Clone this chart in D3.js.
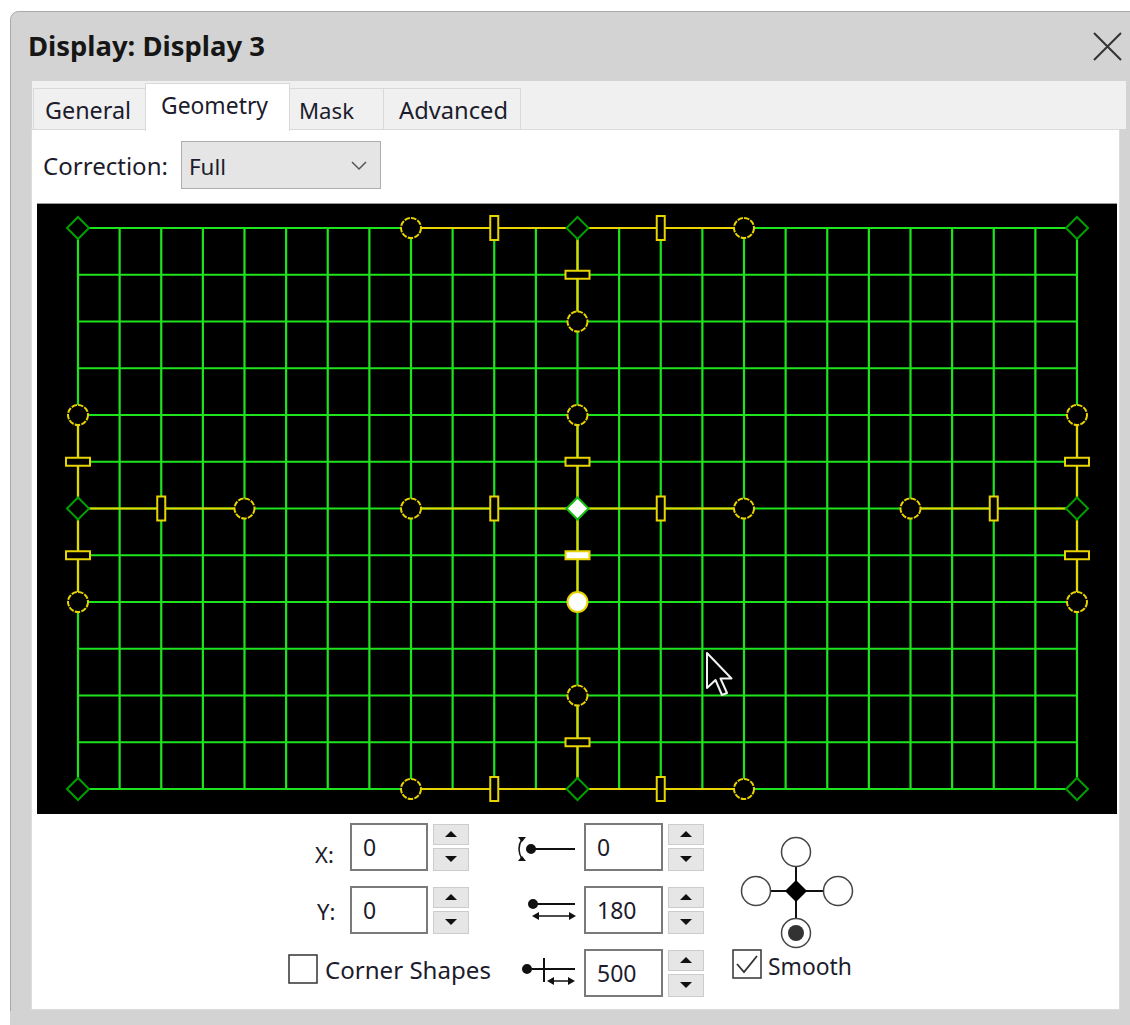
<!DOCTYPE html>
<html>
<head>
<meta charset="utf-8">
<script src="https://cdn.jsdelivr.net/npm/d3@7"></script>
<style>
  body { margin: 0; background: #fff; }
  svg { display: block; }
</style>
</head>
<body>
<div id="plot"></div>
<script>
"use strict";

// grid of the warp mesh: 24 x 12 cells
const gridCols = [0, 1, 2, 3, 4, 5, 6, 7, 8, 9, 10, 11, 12, 13, 14, 15, 16, 17, 18, 19, 20, 21, 22, 23, 24];
const gridRows = [0, 1, 2, 3, 4, 5, 6, 7, 8, 9, 10, 11, 12];

// control points (diamonds), 3 x 3
const nodeCol = [0, 12, 24, 0, 12, 24, 0, 12, 24];
const nodeRow = [0, 0, 0, 6, 6, 6, 12, 12, 12];
const selectedNode = 4;

// bezier handles: node they start from and where the circle sits
const handleFrom = [1, 1, 1, 3, 3, 3, 5, 5, 5, 4, 4, 4, 4, 7, 7, 7];
const handleCol = [8, 16, 12, 0, 0, 4, 24, 24, 20, 12, 12, 8, 16, 8, 16, 12];
const handleRow = [0, 0, 2, 4, 8, 6, 4, 8, 6, 4, 8, 6, 6, 12, 12, 10];
const selectedHandle = 10;

// dialog texts and field values
const title = "Display: Display 3";
const tabs = ["General", "Geometry", "Mask", "Advanced"];
const activeTab = "Geometry";
const correction = "Full";
const leftLabels = ["X:", "Y:"];
const leftValues = ["0", "0"];
const rightValues = ["0", "180", "500"];

const FONT = "'Noto Sans', 'Open Sans', sans-serif";
const GREEN = "#1ee41e";
const DARKGREEN = "#00a000";
const YELLOW = "#e8d400";
const INK = "#1c1c2c";

const msm = {
    width: 1130,
    height: 1025,
    gridLeft: 78,
    gridRight: 1077,
    gridTop: 228,
    gridBottom: 789
};

let svg;

window.onload = function () {
    svg = d3.select("#plot")
        .append("svg")
        .attr("width", msm.width)
        .attr("height", msm.height);
    drawWindow();
    drawTabs();
    drawMesh();
    drawControls();
}

// text placed at left x / baseline y, font size fitted so it spans width w
function label(g, str, x, y, w, size, weight) {
    let t = g.append("text")
        .attr("x", x)
        .attr("y", y)
        .style("font-family", FONT)
        .style("font-size", size + "px")
        .style("font-weight", weight || 400)
        .attr("fill", INK)
        .text(str);
    if (w) {
        let len = t.node().getComputedTextLength();
        t.style("font-size", (size * w / len).toFixed(2) + "px");
    }
    return t;
}

function drawWindow() {
    svg.append("rect")
        .attr("width", msm.width).attr("height", msm.height)
        .attr("fill", "#fff");
    // window body
    svg.append("rect")
        .attr("x", 10.5).attr("y", 11.5)
        .attr("width", 1140).attr("height", 1040)
        .attr("rx", 8)
        .attr("fill", "#d3d3d3")
        .attr("stroke", "#a8a8a8");
    label(svg, title, 28, 56, 237, 24, 700).attr("fill", "#161616");
    // close cross
    svg.append("path")
        .attr("d", "M1094,33 L1121,60 M1121,33 L1094,60")
        .attr("stroke", "#333").attr("stroke-width", 2);
    // tab strip
    svg.append("rect")
        .attr("x", 32).attr("y", 81)
        .attr("width", 1094).attr("height", 48)
        .attr("fill", "#f0f0f0");
    // content panel
    svg.append("rect")
        .attr("x", 31.5).attr("y", 129.5)
        .attr("width", 1088).attr("height", 880)
        .attr("fill", "#fff")
        .attr("stroke", "#dcdcdc");
    svg.append("rect")
        .attr("x", 10).attr("y", 1011)
        .attr("width", 1120).attr("height", 14)
        .attr("fill", "#d3d3d3");
}

function drawTabs() {
    const tabX = [33, 145, 289, 383, 520];
    const textX = [45, 161, 299, 399];
    const textW = [86, 107, 55, 109];
    let g = svg.append("g");
    tabs.forEach((name, i) => {
        let active = name === activeTab;
        let top = active ? 83 : 88;
        g.append("rect")
            .attr("x", tabX[i] + 0.5).attr("y", top + 0.5)
            .attr("width", tabX[i + 1] - tabX[i]).attr("height", (active ? 130 : 129) - top)
            .attr("fill", active ? "#fff" : "#f0f0f0")
            .attr("stroke", "#d9d9d9");
        label(g, name, textX[i], active ? 114 : 119, textW[i], 22);
    });
    // hide the border under the active tab
    svg.append("rect")
        .attr("x", 146).attr("y", 126)
        .attr("width", 143).attr("height", 6)
        .attr("fill", "#fff");

    label(svg, "Correction:", 43, 175, 125, 22);
    svg.append("rect")
        .attr("x", 181.5).attr("y", 141.5)
        .attr("width", 199).attr("height", 47)
        .attr("fill", "#e5e5e5")
        .attr("stroke", "#adadad");
    label(svg, correction, 189, 175, 37, 22);
    svg.append("path")
        .attr("d", "M352,162 L359,169 L366,162")
        .attr("fill", "none").attr("stroke", "#555").attr("stroke-width", 1.5);
}

function drawMesh() {
    let xScale = d3.scaleLinear().domain([0, 24]).range([msm.gridLeft, msm.gridRight]);
    let yScale = d3.scaleLinear().domain([0, 12]).range([msm.gridTop, msm.gridBottom]);

    svg.append("rect")
        .attr("x", 37).attr("y", 203)
        .attr("width", 1080).attr("height", 611)
        .attr("fill", "#000");
    svg.append("line")
        .attr("x1", 37).attr("x2", 1117).attr("y1", 203.5).attr("y2", 203.5)
        .attr("stroke", "#9a9a9a");

    let grid = svg.append("g")
        .attr("stroke", GREEN)
        .attr("stroke-width", 2.2);
    grid.selectAll(".vline")
        .data(gridCols)
        .enter()
        .append("line")
        .attr("x1", d => xScale(d)).attr("x2", d => xScale(d))
        .attr("y1", msm.gridTop).attr("y2", msm.gridBottom);
    grid.selectAll(".hline")
        .data(gridRows)
        .enter()
        .append("line")
        .attr("x1", msm.gridLeft).attr("x2", msm.gridRight)
        .attr("y1", d => yScale(d)).attr("y2", d => yScale(d));

    let handles = handleFrom.map((n, i) => ({
        x0: xScale(nodeCol[n]),
        y0: yScale(nodeRow[n]),
        x1: xScale(handleCol[i]),
        y1: yScale(handleRow[i]),
        horizontal: nodeRow[n] === handleRow[i],
        selected: i === selectedHandle
    }));

    let hg = svg.append("g");
    hg.selectAll("line")
        .data(handles)
        .enter()
        .append("line")
        .attr("x1", d => d.x0).attr("y1", d => d.y0)
        .attr("x2", d => d.x1).attr("y2", d => d.y1)
        .attr("stroke", YELLOW)
        .attr("stroke-width", 2.2);

    // control points
    let nodes = nodeCol.map((c, i) => ({ x: xScale(c), y: yScale(nodeRow[i]), selected: i === selectedNode }));
    svg.append("g")
        .selectAll("path")
        .data(nodes)
        .enter()
        .append("path")
        .attr("d", d => `M${d.x},${d.y - 11} L${d.x + 11},${d.y} L${d.x},${d.y + 11} L${d.x - 11},${d.y} Z`)
        .attr("fill", d => d.selected ? "#fff" : "#000")
        .attr("stroke", d => d.selected ? "#10c010" : DARKGREEN)
        .attr("stroke-width", 2);

    // mid handle boxes
    hg.selectAll("rect")
        .data(handles)
        .enter()
        .append("rect")
        .attr("x", d => (d.x0 + d.x1) / 2 - (d.horizontal ? 4 : 12))
        .attr("y", d => (d.y0 + d.y1) / 2 - (d.horizontal ? 12 : 4))
        .attr("width", d => d.horizontal ? 8 : 24)
        .attr("height", d => d.horizontal ? 24 : 8)
        .attr("fill", d => d.selected ? "#fff" : "#000")
        .attr("stroke", YELLOW)
        .attr("stroke-width", 2);

    // end circles
    hg.selectAll("circle")
        .data(handles)
        .enter()
        .append("circle")
        .attr("cx", d => d.x1).attr("cy", d => d.y1)
        .attr("r", 10)
        .attr("fill", d => d.selected ? "#fff" : "#000")
        .attr("stroke", YELLOW)
        .attr("stroke-width", 2)
        .attr("stroke-dasharray", d => d.selected ? null : "5.5 1.2");

    // mouse pointer
    const cur = [[0, 0], [0, 35], [8.5, 27], [15, 42], [20, 40], [13.5, 25.5], [24.5, 25.5]];
    svg.append("path")
        .attr("d", "M" + cur.map(p => [707 + p[0], 653 + p[1]].join(",")).join(" L") + " Z")
        .attr("fill", "#000")
        .attr("stroke", "#f2f2f2")
        .attr("stroke-width", 2)
        .attr("stroke-linejoin", "round");
}

function textBox(x, y, value, w) {
    svg.append("rect")
        .attr("x", x + 1).attr("y", y + 1)
        .attr("width", w - 2).attr("height", 46)
        .attr("fill", "#fff")
        .attr("stroke", "#7a7a7a")
        .attr("stroke-width", 2);
    label(svg, value, x + 13, y + 33, null, 23);
}

function spinner(x, y) {
    [[y, 20, true], [y + 24, 22, false]].forEach(b => {
        svg.append("rect")
            .attr("x", x + 0.5).attr("y", b[0] + 0.5)
            .attr("width", 35).attr("height", b[1])
            .attr("fill", "#e6e6e6")
            .attr("stroke", "#cccccc");
        let cx = x + 18, cy = b[0] + b[1] / 2;
        svg.append("path")
            .attr("d", b[2]
                ? `M${cx - 6},${cy + 3} L${cx + 6},${cy + 3} L${cx},${cy - 3} Z`
                : `M${cx - 6},${cy - 3} L${cx + 6},${cy - 3} L${cx},${cy + 3} Z`)
            .attr("fill", "#111");
    });
}

function drawControls() {
    const leftRows = [823, 886];
    const rightRows = [823, 886, 949];
    const leftLabelX = [315, 317];
    leftLabels.forEach((l, i) => {
        label(svg, l, leftLabelX[i], leftRows[i] + (i === 0 ? 40 : 34), null, 22);
        textBox(350, leftRows[i], leftValues[i], 78);
        spinner(433, leftRows[i] + 1);
    });
    rightValues.forEach((v, i) => {
        textBox(584, rightRows[i], v, 79);
        spinner(668, rightRows[i] + 1);
    });

    // checkboxes
    svg.append("rect")
        .attr("x", 289).attr("y", 955)
        .attr("width", 28).attr("height", 28)
        .attr("fill", "#fff").attr("stroke", "#333").attr("stroke-width", 1.5);
    label(svg, "Corner Shapes", 325, 979, 166, 22);
    svg.append("rect")
        .attr("x", 733).attr("y", 950)
        .attr("width", 28).attr("height", 28)
        .attr("fill", "#fff").attr("stroke", "#333").attr("stroke-width", 1.5);
    svg.append("path")
        .attr("d", "M737,964 L744,972 L757,956")
        .attr("fill", "none").attr("stroke", "#333").attr("stroke-width", 1.8);
    label(svg, "Smooth", 768, 975, 84, 22);

    // handle icons
    let ic = svg.append("g").attr("stroke", "#111").attr("fill", "#111").attr("stroke-width", 2);
    ic.append("path").attr("d", "M531,849 L575,849");
    ic.append("circle").attr("cx", 531).attr("cy", 849).attr("r", 4);
    ic.append("path").attr("d", "M522,839 Q516,849 522,859").attr("fill", "none").attr("stroke-width", 1.5);
    ic.append("path").attr("d", "M518,837 L526,837 L522,842 Z").attr("stroke", "none");
    ic.append("path").attr("d", "M518,861 L526,861 L522,856 Z").attr("stroke", "none");

    ic.append("path").attr("d", "M533,904 L575,904");
    ic.append("circle").attr("cx", 533).attr("cy", 904).attr("r", 4);
    ic.append("path").attr("d", "M537,916 L571,916").attr("stroke-width", 1.5);
    ic.append("path").attr("d", "M532,916 L539,912 L539,920 Z M576,916 L569,912 L569,920 Z").attr("stroke", "none");

    ic.append("path").attr("d", "M527,969 L575,969");
    ic.append("circle").attr("cx", 527).attr("cy", 969).attr("r", 4);
    ic.append("path").attr("d", "M544,958 L544,982");
    ic.append("path").attr("d", "M552,981 L570,981").attr("stroke-width", 1.5);
    ic.append("path").attr("d", "M547,981 L554,977 L554,985 Z M575,981 L568,977 L568,985 Z").attr("stroke", "none");

    // joystick
    const jx = 796, jy = 891;
    let js = svg.append("g");
    js.append("path")
        .attr("d", `M${jx},${jy - 40} L${jx},${jy + 42} M${jx - 40},${jy} L${jx + 42},${jy}`)
        .attr("stroke", "#111").attr("stroke-width", 2);
    [[jx, 852], [756, jy], [838, jy], [jx, 933]].forEach(p => {
        js.append("circle").attr("cx", p[0]).attr("cy", p[1]).attr("r", 14.5)
            .attr("fill", "#fff").attr("stroke", "#444").attr("stroke-width", 1.5);
    });
    js.append("circle").attr("cx", jx).attr("cy", 933).attr("r", 8).attr("fill", "#333");
    js.append("path")
        .attr("d", `M${jx},${jy - 11} L${jx + 11},${jy} L${jx},${jy + 11} L${jx - 11},${jy} Z`)
        .attr("fill", "#000");
}
</script>
</body>
</html>
